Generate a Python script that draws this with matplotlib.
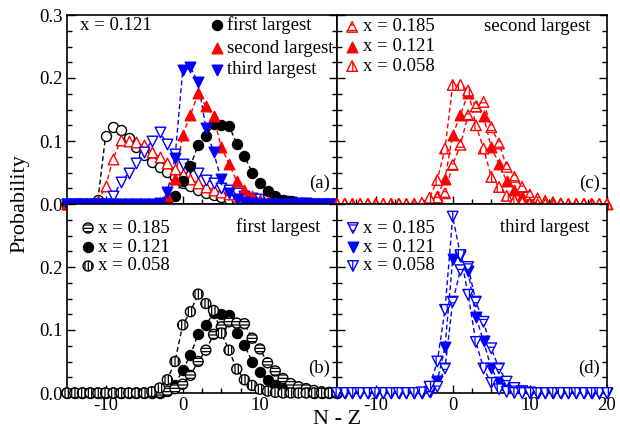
import numpy as np
import matplotlib
matplotlib.use("Agg")
import matplotlib.pyplot as plt
from matplotlib.ticker import MultipleLocator

plt.rcParams['font.family'] = ['Liberation Serif', 'DejaVu Serif']
plt.rcParams['axes.unicode_minus'] = False
plt.rcParams['hatch.linewidth'] = 0.9

# N - Z values, every integer from -15 to 20
nz = np.arange(-15, 21)


def pad(start, vals):
    # values start at N-Z = start, zero everywhere else
    out = np.zeros(len(nz))
    i = start + 15
    out[i:i + len(vals)] = vals
    return out


# panel (a): x = 0.121, open symbols
first_open = pad(-12, [0.0, 0.006, 0.108, 0.123, 0.117, 0.104, 0.09, 0.078, 0.067, 0.058, 0.051,
                       0.043, 0.033, 0.028, 0.023, 0.018, 0.015, 0.011, 0.008, 0.006, 0.004, 0.003,
                       0.002, 0.001])
second_open = pad(-11, [0.004, 0.028, 0.072, 0.102, 0.1, 0.098, 0.093, 0.082, 0.075, 0.065, 0.055,
                        0.047, 0.039, 0.033, 0.027, 0.023, 0.019, 0.016, 0.013, 0.011, 0.008, 0.006,
                        0.004, 0.003, 0.002, 0.001])
third_open = pad(-10, [0.0, 0.012, 0.035, 0.049, 0.065, 0.083, 0.1, 0.115, 0.095, 0.079, 0.064,
                       0.057, 0.049, 0.038, 0.034, 0.025, 0.023, 0.017, 0.012, 0.009, 0.008, 0.006,
                       0.005, 0.004, 0.003, 0.002, 0.001])

# filled symbols, x = 0.121
first_121 = pad(-3, [0.0, 0.003, 0.013, 0.037, 0.06, 0.094, 0.108, 0.127, 0.125, 0.124, 0.096,
                     0.076, 0.05, 0.033, 0.02, 0.012, 0.007, 0.004, 0.002, 0.001])
second_121 = pad(-3, [0.002, 0.012, 0.04, 0.11, 0.141, 0.176, 0.155, 0.139, 0.09, 0.064, 0.036,
                      0.023, 0.012, 0.006, 0.003, 0.001])
third_121 = pad(-3, [0.002, 0.019, 0.073, 0.212, 0.217, 0.193, 0.121, 0.082, 0.039, 0.018, 0.008,
                     0.003, 0.001])

# x = 0.185 and x = 0.058
first_185 = pad(-3, [0.001, 0.003, 0.007, 0.014, 0.028, 0.05, 0.068, 0.093, 0.105, 0.113, 0.111,
                     0.11, 0.087, 0.07, 0.048, 0.035, 0.023, 0.015, 0.01, 0.007, 0.004, 0.002, 0.001])
first_058 = pad(-4, [0.002, 0.008, 0.021, 0.05, 0.108, 0.129, 0.157, 0.142, 0.131, 0.095, 0.068,
                     0.038, 0.021, 0.012, 0.006, 0.003, 0.001])
second_185 = pad(-3, [0.002, 0.01, 0.017, 0.062, 0.094, 0.141, 0.155, 0.162, 0.122, 0.096, 0.059,
                      0.043, 0.027, 0.015, 0.009, 0.005, 0.003, 0.001])
second_058 = pad(-4, [0.002, 0.01, 0.038, 0.088, 0.189, 0.189, 0.18, 0.125, 0.088, 0.043, 0.027,
                      0.013, 0.006, 0.003, 0.001])
third_185 = pad(-3, [0.002, 0.01, 0.039, 0.145, 0.195, 0.2, 0.145, 0.113, 0.071, 0.039, 0.018,
                     0.008, 0.003, 0.001])
third_058 = pad(-4, [0.001, 0.01, 0.05, 0.132, 0.28, 0.219, 0.156, 0.081, 0.039, 0.016, 0.006, 0.002])

x_labels = ['x = 0.185', 'x = 0.121', 'x = 0.058']
rank_labels = ['first largest', 'second largest', 'third largest']

FS = 13.5
DASH = (0, (3.5, 2.2))
S_CIRC = 52
S_TRI = 58


def series(ax, y, color, marker, face, hatch=None, s=S_CIRC):
    ax.plot(nz, y, ls=DASH, color=color, lw=1.0, zorder=2, clip_on=False)
    plt.rcParams['hatch.color'] = color
    ax.scatter(nz, y, s=s, marker=marker, facecolors=face, edgecolors=color,
               linewidths=1.0, hatch=hatch, zorder=3, clip_on=False)


def key(ax, rows, mx, tx, ys):
    # hand placed legend: marker + text per row
    for (color, marker, face, hatch, s, label), yy in zip(rows, ys):
        plt.rcParams['hatch.color'] = color
        ax.scatter([mx], [yy], s=s, marker=marker, facecolors=face, edgecolors=color,
                   linewidths=1.0, hatch=hatch, transform=ax.transAxes, zorder=4, clip_on=False)
        ax.text(tx, yy, label, transform=ax.transAxes, ha='left', va='center', fontsize=FS)


def style(ax, xlab, ylab):
    ax.set_xlim(-15, 20)
    ax.set_ylim(0, 0.3)
    ax.set_xticks([-10, 0, 10, 20])
    ax.set_yticks([0.0, 0.1, 0.2, 0.3])
    ax.xaxis.set_minor_locator(MultipleLocator(2.5))
    ax.yaxis.set_minor_locator(MultipleLocator(0.025))
    ax.tick_params(which='both', direction='in', top=False, right=True, width=1.0,
                   labelsize=FS, pad=3)
    ax.tick_params(which='major', length=6)
    ax.tick_params(which='minor', length=3.5)
    if xlab is not None:
        ax.set_xticklabels(['-10', '0', '10', xlab])
    else:
        ax.set_xticklabels([])
    if ylab is not None:
        ax.set_yticklabels(['0.0', '0.1', '0.2', ylab])
    else:
        ax.set_yticklabels([])
    for sp in ax.spines.values():
        sp.set_linewidth(1.2)


fig = plt.figure(figsize=(6.2, 4.37), dpi=100)
L, W = 67 / 620, 270 / 620
H = 189 / 437
B0, B1 = 1 - 393 / 437, 1 - 204 / 437
ax_a = fig.add_axes([L, B1, W, H])
ax_c = fig.add_axes([L + W, B1, W, H])
ax_b = fig.add_axes([L, B0, W, H])
ax_d = fig.add_axes([L + W, B0, W, H])

# (a)
series(ax_a, first_open, 'black', 'o', 'white')
series(ax_a, second_open, 'red', '^', 'white', s=S_TRI)
series(ax_a, third_open, 'blue', 'v', 'white', s=S_TRI)
series(ax_a, first_121, 'black', 'o', 'black')
series(ax_a, second_121, 'red', '^', 'red', s=S_TRI)
series(ax_a, third_121, 'blue', 'v', 'blue', s=S_TRI)
style(ax_a, None, '0.3')
ax_a.text(0.048, 0.947, 'x = 0.121', transform=ax_a.transAxes, ha='left', va='center', fontsize=FS)
key(ax_a, [('black', 'o', 'black', None, S_CIRC, rank_labels[0]),
           ('red', '^', 'red', None, S_TRI, rank_labels[1]),
           ('blue', 'v', 'blue', None, S_TRI, rank_labels[2])],
    0.556, 0.593, [0.947, 0.825, 0.709])
ax_a.text(0.975, 0.11, '(a)', transform=ax_a.transAxes, ha='right', va='center', fontsize=FS)

# (c) second largest
series(ax_c, second_121, 'red', '^', 'red', s=S_TRI)
series(ax_c, second_185, 'red', '^', 'white', hatch='---', s=S_TRI)
series(ax_c, second_058, 'red', '^', 'white', hatch='|||', s=S_TRI)
style(ax_c, None, None)
key(ax_c, [('red', '^', 'white', '---', S_TRI, x_labels[0]),
           ('red', '^', 'red', None, S_TRI, x_labels[1]),
           ('red', '^', 'white', '|||', S_TRI, x_labels[2])],
    0.056, 0.096, [0.937, 0.831, 0.730])
ax_c.text(0.937, 0.937, 'second largest', transform=ax_c.transAxes, ha='right', va='center', fontsize=FS)
ax_c.text(0.975, 0.11, '(c)', transform=ax_c.transAxes, ha='right', va='center', fontsize=FS)

# (b) first largest
series(ax_b, first_121, 'black', 'o', 'black')
series(ax_b, first_185, 'black', 'o', 'white', hatch='-----')
series(ax_b, first_058, 'black', 'o', 'white', hatch='|||||')
style(ax_b, '', '')
key(ax_b, [('black', 'o', 'white', '-----', S_CIRC, x_labels[0]),
           ('black', 'o', 'black', None, S_CIRC, x_labels[1]),
           ('black', 'o', 'white', '|||||', S_CIRC, x_labels[2])],
    0.078, 0.115, [0.873, 0.772, 0.672])
ax_b.text(0.937, 0.878, 'first largest', transform=ax_b.transAxes, ha='right', va='center', fontsize=FS)
ax_b.text(0.975, 0.13, '(b)', transform=ax_b.transAxes, ha='right', va='center', fontsize=FS)

# (d) third largest
series(ax_d, third_121, 'blue', 'v', 'blue', s=S_TRI)
series(ax_d, third_185, 'blue', 'v', 'white', hatch='---', s=S_TRI)
series(ax_d, third_058, 'blue', 'v', 'white', hatch='|||', s=S_TRI)
style(ax_d, '20', None)
key(ax_d, [('blue', 'v', 'white', '---', S_TRI, x_labels[0]),
           ('blue', 'v', 'blue', None, S_TRI, x_labels[1]),
           ('blue', 'v', 'white', '|||', S_TRI, x_labels[2])],
    0.059, 0.096, [0.873, 0.772, 0.672])
ax_d.text(0.937, 0.878, 'third largest', transform=ax_d.transAxes, ha='right', va='center', fontsize=FS)
ax_d.text(0.975, 0.13, '(d)', transform=ax_d.transAxes, ha='right', va='center', fontsize=FS)

fig.text(0.032, 1 - 204 / 437, 'Probability', rotation=90, ha='center', va='center', fontsize=16)
fig.text(337 / 620, 1 - 420 / 437, 'N - Z', ha='center', va='center', fontsize=16)

fig.savefig('out.png', dpi=100)
